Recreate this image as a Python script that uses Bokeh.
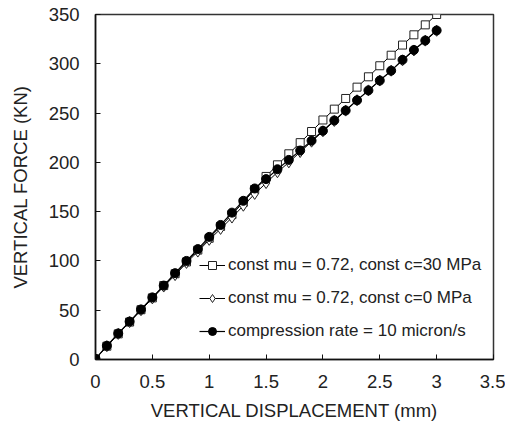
from bokeh.plotting import figure
from bokeh.models import Legend, LegendItem, Range1d, FixedTicker
from bokeh.embed import file_html
from bokeh.resources import INLINE

# Data
displacement = [0.0, 0.1, 0.2, 0.3, 0.4, 0.5, 0.6, 0.7, 0.8, 0.9, 1.0,
                1.1, 1.2, 1.3, 1.4, 1.5, 1.6, 1.7, 1.8, 1.9, 2.0,
                2.1, 2.2, 2.3, 2.4, 2.5, 2.6, 2.7, 2.8, 2.9, 3.0]
force_c30 = [0.5, 13.5, 26.0, 38.0, 50.5, 62.5, 75.0, 87.0, 99.0, 111.0, 123.0,
             135.0, 147.0, 159.5, 172.5, 185.7, 197.5, 208.7, 220.0, 231.3, 243.0,
             254.0, 264.8, 276.3, 286.8, 298.0, 308.7, 319.0, 329.4, 339.5, 350.0]
force_c0 = [0.5, 13.5, 26.0, 38.0, 50.0, 62.0, 74.0, 85.6, 98.0, 109.5, 121.4,
            132.5, 144.0, 156.0, 168.0, 179.0, 190.0, 200.0, 210.5, 221.0, 231.5,
            242.0, 252.5, 263.0, 273.0, 283.0, 293.0, 303.5, 313.5, 323.5, 333.5]
force_rate = [0.7, 13.9, 26.4, 38.5, 50.7, 63.0, 75.0, 87.6, 100.0, 112.0, 124.4,
              136.5, 149.0, 161.0, 173.5, 183.0, 193.0, 202.5, 212.0, 222.0, 232.0,
              242.5, 252.6, 263.0, 273.0, 283.0, 293.0, 304.0, 314.0, 323.6, 333.8]
labels = ["const mu = 0.72, const c=30 MPa",
          "const mu = 0.72, const c=0 MPa",
          "compression rate = 10 micron/s"]
x_ticks = [0, 0.5, 1, 1.5, 2, 2.5, 3, 3.5]
y_ticks = [0, 50, 100, 150, 200, 250, 300, 350]

FONT = "Liberation Sans"
TXT = "#222222"

p = figure(width=505, height=423, output_backend="svg", toolbar_location=None,
           x_range=Range1d(0, 3.5), y_range=Range1d(0, 350),
           min_border_left=95, min_border_right=12, min_border_top=14,
           min_border_bottom=64)
p.xgrid.visible = False
p.ygrid.visible = False
p.outline_line_color = "#333333"
p.outline_line_width = 1.5

for ax, ticks in ((p.xaxis[0], x_ticks), (p.yaxis[0], y_ticks)):
    ax.ticker = FixedTicker(ticks=ticks)
    ax.major_tick_in = 5
    ax.major_tick_out = 0
    ax.minor_tick_line_color = None
    ax.axis_line_color = "#111111"
    ax.axis_line_width = 1.5
    ax.major_tick_line_color = "#111111"
    ax.major_label_text_font = FONT
    ax.major_label_text_font_size = "18.5px"
    ax.major_label_text_color = TXT
    ax.axis_label_text_font = FONT
    ax.axis_label_text_font_size = "18.5px"
    ax.axis_label_text_font_style = "normal"
    ax.axis_label_text_color = TXT

p.xaxis[0].axis_label = "VERTICAL DISPLACEMENT (mm)"
p.yaxis[0].axis_label = "VERTICAL FORCE (KN)"
p.xaxis[0].major_label_standoff = 15
p.yaxis[0].major_label_standoff = 16
p.xaxis[0].axis_label_standoff = 9
p.yaxis[0].axis_label_standoff = 15
p.xaxis[0].major_label_overrides = {0: "0", 1: "1", 2: "2", 3: "3"}

l1 = p.line(displacement, force_c30, line_color="black", line_width=1)
m1 = p.scatter(displacement, force_c30, marker="square", size=8,
               fill_color="white", line_color="#222222", line_width=1)
l2 = p.line(displacement, force_c0, line_color="black", line_width=1)
m2 = p.scatter(displacement, force_c0, marker="diamond", size=11,
               fill_color="white", line_color="#222222", line_width=1)
l3 = p.line(displacement, force_rate, line_color="black", line_width=1.2)
m3 = p.scatter(displacement, force_rate, marker="circle", size=9,
               fill_color="black", line_color="black")

legend = Legend(items=[LegendItem(label=labels[0], renderers=[l1, m1]),
                       LegendItem(label=labels[1], renderers=[l2, m2]),
                       LegendItem(label=labels[2], renderers=[l3, m3])],
                location=(104, 18), orientation="vertical",
                background_fill_alpha=0, border_line_color=None,
                label_text_font=FONT, label_text_font_size="17px",
                label_text_color=TXT, glyph_width=26, glyph_height=20,
                label_height=20, label_standoff=3, spacing=13, padding=2,
                margin=0)
p.add_layout(legend)

open("out.html", "w").write(file_html(p, INLINE))
